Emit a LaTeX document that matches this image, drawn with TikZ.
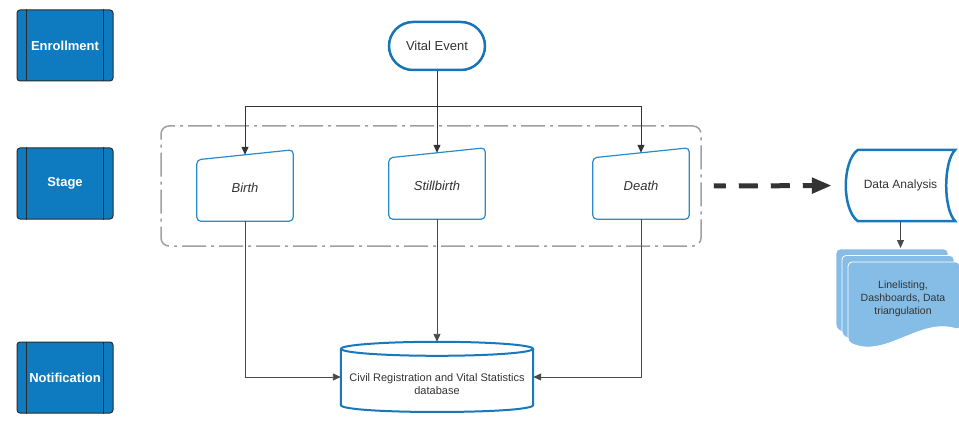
\documentclass[tikz,border=0pt]{standalone}
\usepackage{fontspec}
\setmainfont{Liberation Sans}
\usetikzlibrary{arrows.meta,calc}
\definecolor{boxblue}{HTML}{0E7BC0}
\definecolor{boxedge}{HTML}{2B2B2B}
\definecolor{evblue}{HTML}{1675B8}
\definecolor{shpblue}{HTML}{2A8BCB}
\definecolor{cylblue}{HTML}{1878BB}
\definecolor{docblue}{HTML}{86BDE6}
\definecolor{grpgray}{HTML}{A0A0A0}
\definecolor{txt}{HTML}{333333}
\definecolor{linegray}{HTML}{4A4A4A}
\begin{document}
\begin{tikzpicture}[x=1pt,y=-1pt,
  stagebox/.style={draw=boxedge, fill=boxblue, rounded corners=3, minimum width=96, minimum height=71,
    line width=1, text=white, font=\bfseries\fontsize{13}{15}\selectfont, inner sep=0},
  manual/.style={minimum width=96, minimum height=66, inner sep=0, text=txt,
    font=\itshape\fontsize{13}{15}\selectfont},
  manline/.style={draw=shpblue, line width=1.2, rounded corners=4},
  arr/.style={draw=txt, line width=1, -{Triangle[length=8,width=7]}},
  arr2/.style={draw=linegray, line width=0.9, -{Triangle[length=8,width=7]}},
  docshape/.style={fill=docblue, draw=white, line width=0.8, rounded corners=4}]
\useasboundingbox (0,0) rectangle (959,425);

% left stage labels
\node[stagebox] (enr) at (65,45.5) {Enrollment};
\node[stagebox] (stg) at (65,183.5) {Stage};
\node[stagebox] (ntf) at (65,377.5) {Notification};
\foreach \n in {enr,stg,ntf}{
  \draw[boxedge, line width=1] ($(\n.north west)+(10,0)$) -- ($(\n.south west)+(10,0)$);
  \draw[boxedge, line width=1] ($(\n.north east)+(-10,0)$) -- ($(\n.south east)+(-10,0)$);
}

% group rectangle
\node[draw=grpgray, line width=1.5, dash pattern=on 24 off 5 on 3 off 5, rounded corners=8,
  minimum width=540, minimum height=120, inner sep=0] (grp) at (431,186) {};

% vital event
\node[draw=evblue, line width=2.5, rounded corners=24, minimum width=96, minimum height=48,
  inner sep=0, text=txt, font=\fontsize{13}{15}\selectfont] (ve) at (437,46) {Vital Event};

% manual input shapes
\node[manual] (birth) at (245,188) {Birth};
\node[manual] (still) at (437,186) {Stillbirth};
\node[manual] (death) at (641,186) {Death};
\foreach \n in {birth,still,death}{
  \draw[manline] (\n.south) -- (\n.south west) -- ($(\n.north west)+(0,5)$) -- ($(\n.north east)+(0,-5)$)
    -- (\n.south east) -- cycle;
}

% connectors from vital event
\coordinate (split) at (437,107);
\draw[arr] (ve.south) -- (still.north);
\draw[arr] (split) -| (birth.north);
\draw[arr] (split) -| (death.north);

% database cylinder
\node[minimum width=192, minimum height=70, inner sep=0] (db) at (437,377) {};
\node[align=center, text=txt, inner sep=0, font=\fontsize{11}{13}\selectfont] (dbtext) at (437,384)
  {Civil Registration and Vital Statistics\\database};
\draw[cylblue, line width=2] ($(db.north)+(0,7)$) ellipse [x radius=96, y radius=7];
\draw[cylblue, line width=2] ($(db.west)+(0,-28)$) -- ($(db.west)+(0,28)$)
  .. controls +(0,9.33) and +(0,9.33) .. ($(db.east)+(0,28)$) -- ($(db.east)+(0,-28)$);

\draw[arr2] (birth.south) |- (db.west);
\draw[arr2] (still.south) -- (db.north);
\draw[arr2] (death.south) |- (db.east);

% data analysis (stored data)
\node[minimum width=109, minimum height=71, inner sep=0, text=txt,
  font=\fontsize{12}{14}\selectfont] (da) at (900.5,185.5) {Data Analysis};
\draw[cylblue, line width=2.5] ($(da.north west)+(12,0)$) -- (da.north east)
  .. controls +(-12,12) and +(-12,-12) .. (da.south east) -- ($(da.south west)+(12,0)$)
  .. controls +(-16,-12) and +(-16,12) .. cycle;

% dashed arrow
\draw[txt, line width=5, dash pattern=on 19 off 13, dash phase=7, shorten >=14,
  -{Triangle[length=20pt,width=15pt]}] ($(grp.east)+(12,0)$) -- (da.west);

% documents
\foreach \dx/\dy in {836/249, 842/255.5, 848/262}{
  \path[docshape] (\dx,\dy+80) -- (\dx,\dy) -- (\dx+112,\dy) -- (\dx+112,\dy+68)
    .. controls (\dx+72,\dy+55) and (\dx+38,\dy+97) .. (\dx,\dy+80) -- cycle;
}
\node[align=center, text=txt, inner sep=0, font=\fontsize{10.5}{13}\selectfont] (docs) at (903,299)
  {Linelisting,\\Dashboards, Data\\triangulation};
\coordinate (docstop) at (900.5,248);
\draw[arr2] (da.south) -- (docstop);
\end{tikzpicture}
\end{document}
